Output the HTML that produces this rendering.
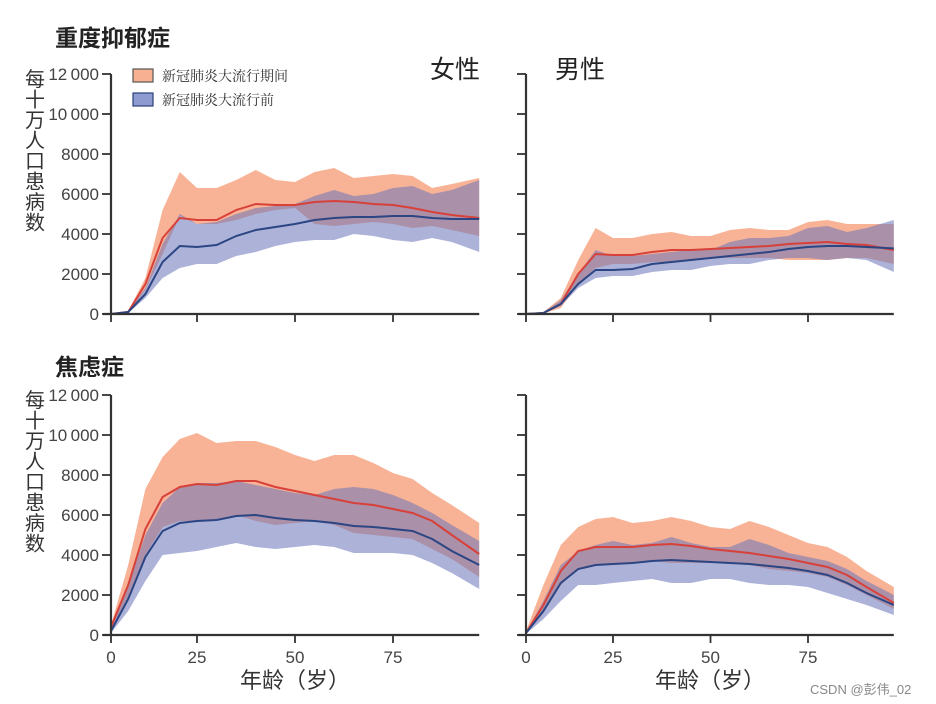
<!DOCTYPE html>
<html><head><meta charset="utf-8">
<style>
html,body{margin:0;padding:0;background:#fff;}
svg{display:block;font-family:"Liberation Sans","Noto Sans CJK SC",sans-serif;}
</style></head>
<body>
<svg id="chart" width="936" height="704" viewBox="0 0 936 704">
<text x="55" y="46" font-size="23" font-weight="bold" fill="#222">重度抑郁症</text>
<text x="55" y="375" font-size="23" font-weight="bold" fill="#222">焦虑症</text>
<text x="430" y="78" font-size="25" fill="#222">女性</text>
<text x="555" y="78" font-size="25" fill="#222">男性</text>
<g>
<rect x="133" y="69" width="20" height="13" fill="#f7b092" stroke="#555" stroke-width="1.2"/>
<text x="162" y="81" font-size="14" fill="#333" font-family="'Noto Serif CJK SC',serif">新冠肺炎大流行期间</text>
<rect x="133" y="93" width="20" height="13" fill="#8d9bd0" stroke="#2b3f7a" stroke-width="1.2"/>
<text x="162" y="105" font-size="14" fill="#333" font-family="'Noto Serif CJK SC',serif">新冠肺炎大流行前</text>
</g>
<text x="240" y="688" font-size="22" fill="#333">年龄（岁）</text>
<text x="655" y="688" font-size="22" fill="#333">年龄（岁）</text>
<text x="810" y="694" font-size="13" fill="#888">CSDN @彭伟_02</text>
<g id="panels"></g>
</svg>
<script>
const ages = [0,5,10,15,20,25,30,35,40,45,50,55,60,65,70,75,80,85,90,97];
const yTicks = [0,2000,4000,6000,8000,10000,12000];
const xTicks = [0,25,50,75];

const depFemDuring = [0,100,1500,3800,4800,4700,4700,5200,5500,5450,5450,5600,5650,5600,5500,5450,5300,5100,4950,4800];
const depFemDuringHi = [0,150,1800,5200,7100,6300,6300,6700,7200,6700,6600,7100,7300,6800,6900,7000,6900,6300,6500,6800];
const depFemDuringLo = [0,50,1200,3000,4900,4500,4500,4700,5000,5200,5300,4500,4400,4500,4600,4500,4300,4400,4200,3900];
const depFemBefore = [0,100,1000,2600,3400,3350,3450,3900,4200,4350,4500,4700,4800,4850,4850,4900,4900,4800,4750,4750];
const depFemBeforeHi = [0,150,1300,3500,5000,4500,4600,5000,5300,5400,5500,5900,6200,5900,6000,6300,6400,6000,6200,6700];
const depFemBeforeLo = [0,50,800,1800,2300,2500,2500,2900,3100,3400,3600,3700,3700,4000,3900,3700,3600,3800,3600,3100];

const depMaleDuring = [0,50,500,2000,3000,2950,2950,3100,3200,3200,3250,3300,3350,3400,3500,3550,3600,3500,3450,3200];
const depMaleDuringHi = [0,100,800,2700,4300,3800,3800,4000,4100,3900,3900,4200,4300,4200,4200,4600,4700,4500,4500,4500];
const depMaleDuringLo = [0,30,300,1500,2300,2500,2500,2600,2600,2700,2800,2800,2800,2800,2700,2700,2700,2800,2800,2500];
const depMaleBefore = [0,50,500,1500,2200,2200,2250,2500,2600,2700,2800,2900,3000,3100,3250,3350,3400,3400,3350,3280];
const depMaleBeforeHi = [0,80,700,2000,3200,2900,2900,3000,3100,3200,3200,3600,3800,3800,3900,4300,4400,4100,4300,4700];
const depMaleBeforeLo = [0,20,400,1300,1800,1900,1900,2100,2200,2200,2400,2500,2500,2700,2800,2800,2700,2800,2700,2100];

const anxFemDuring = [400,2500,5300,6900,7400,7550,7500,7700,7700,7400,7200,7000,6800,6600,6500,6300,6100,5700,5000,4050];
const anxFemDuringHi = [500,3500,7300,8900,9800,10100,9600,9700,9700,9400,9000,8700,9000,9000,8600,8100,7800,7100,6500,5600];
const anxFemDuringLo = [300,1800,4000,5400,5700,5700,5800,6000,5700,5500,5600,5700,5500,5100,5000,4900,4800,4300,3800,2900];
const anxFemBefore = [200,1800,3900,5200,5600,5700,5750,5950,6000,5850,5750,5700,5600,5450,5400,5300,5200,4800,4200,3500];
const anxFemBeforeHi = [300,2500,5000,6600,7400,7600,7600,7700,7500,7300,7100,7000,7300,7400,7300,7000,6600,6100,5500,4700];
const anxFemBeforeLo = [100,1200,2700,4000,4100,4200,4400,4600,4400,4300,4400,4500,4400,4100,4100,4100,4000,3600,3100,2300];

const anxMaleDuring = [100,1500,3200,4200,4400,4400,4400,4500,4550,4450,4300,4200,4100,3950,3800,3600,3400,3000,2400,1600];
const anxMaleDuringHi = [200,2500,4500,5400,5800,5900,5600,5700,5900,5700,5400,5300,5700,5400,5000,4600,4400,3900,3200,2400];
const anxMaleDuringLo = [50,1100,2500,3300,3500,3500,3600,3700,3600,3600,3600,3600,3500,3300,3200,3100,2900,2500,2000,1300];
const anxMaleBefore = [100,1200,2600,3300,3500,3550,3600,3700,3750,3700,3650,3600,3550,3450,3350,3200,3000,2600,2100,1500];
const anxMaleBeforeHi = [150,1700,3500,4200,4500,4700,4500,4600,4900,4600,4400,4400,4800,4500,4100,3900,3700,3300,2700,2000];
const anxMaleBeforeLo = [50,800,1700,2500,2500,2600,2700,2800,2600,2600,2800,2800,2600,2500,2500,2400,2100,1800,1500,1000];

const NS="http://www.w3.org/2000/svg";
const root=document.getElementById('panels');
function mk(tag,attrs,parent){const e=document.createElementNS(NS,tag);for(const k in attrs)e.setAttribute(k,attrs[k]);(parent||root).appendChild(e);return e;}

function drawPanel(cfg){
  const g=mk('g',{});
  
  
  const x0=cfg.x0, y0=cfg.y0;
  const xs=a=> a<=25 ? x0 + a*(cfg.x25-x0)/25 : cfg.x25 + (a-25)*cfg.pxPerYr;
  const ys=v=> y0 - v*20/1000;
  function band(hi,lo,fill,nm){
    let d='M'+ages.map((a,i)=>xs(a).toFixed(1)+','+ys(hi[i]).toFixed(1)).join('L');
    for(let i=ages.length-1;i>=0;i--) d+='L'+xs(ages[i]).toFixed(1)+','+ys(lo[i]).toFixed(1);
    const p=mk('path',{d:d+'Z',fill:fill},g);
    
    
  }
  function line(vals,col,nm){
    const p=mk('path',{d:'M'+ages.map((a,i)=>xs(a).toFixed(1)+','+ys(vals[i]).toFixed(1)).join('L'),fill:'none',stroke:col,'stroke-width':2},g);
    
    
  }
  band(cfg.dHi,cfg.dLo,'rgba(245,150,110,0.72)','during-band');
  band(cfg.bHi,cfg.bLo,'rgba(105,115,185,0.55)','before-band');
  line(cfg.d,'#d8413a','during-line');
  line(cfg.b,'#2c4683','before-line');
  const xe=xs(97);
  mk('line',{x1:x0,y1:y0-240,x2:x0,y2:y0,stroke:'#333','stroke-width':2.2},g);
  mk('line',{x1:x0-8,y1:y0,x2:xe,y2:y0,stroke:'#333','stroke-width':2.2},g);
  yTicks.forEach(v=>{
    const t=mk('line',{x1:x0-9,y1:ys(v),x2:x0,y2:ys(v),stroke:'#333','stroke-width':1.8},g);
    
    
    if(cfg.yLabels){
      const s=mk('text',{x:x0-12,y:ys(v)+6,'font-size':17,'text-anchor':'end',fill:'#444'},g);
      s.textContent=v===0?'0':(v>=10000?String(v).slice(0,2)+'\u2009'+String(v).slice(2):String(v));
      
      
    }
  });
  xTicks.forEach(a=>{
    const t=mk('line',{x1:xs(a),y1:y0,x2:xs(a),y2:y0+8,stroke:'#333','stroke-width':1.8},g);
    
    
    if(cfg.xLabels){
      const s=mk('text',{x:xs(a),y:y0+28,'font-size':17,'text-anchor':'middle',fill:'#444'},g);
      s.textContent=String(a);
      
      
    }
  });
  if(cfg.yLabels){
    '每十万人口患病数'.split('').forEach((c,i)=>{
      const s=mk('text',{x:35,y:y0-228+i*20.5,'font-size':20,'text-anchor':'middle',fill:'#333'},g);
      s.textContent=c;
      
      
    });
  }
}
drawPanel({name:'panel-depression-female',x0:111,x25:197,pxPerYr:3.92,y0:314,yLabels:true,xLabels:false,d:depFemDuring,dHi:depFemDuringHi,dLo:depFemDuringLo,b:depFemBefore,bHi:depFemBeforeHi,bLo:depFemBeforeLo});
drawPanel({name:'panel-depression-male',x0:526,x25:613,pxPerYr:3.9,y0:314,yLabels:false,xLabels:false,d:depMaleDuring,dHi:depMaleDuringHi,dLo:depMaleDuringLo,b:depMaleBefore,bHi:depMaleBeforeHi,bLo:depMaleBeforeLo});
drawPanel({name:'panel-anxiety-female',x0:111,x25:197,pxPerYr:3.92,y0:635,yLabels:true,xLabels:true,d:anxFemDuring,dHi:anxFemDuringHi,dLo:anxFemDuringLo,b:anxFemBefore,bHi:anxFemBeforeHi,bLo:anxFemBeforeLo});
drawPanel({name:'panel-anxiety-male',x0:526,x25:613,pxPerYr:3.9,y0:635,yLabels:false,xLabels:true,d:anxMaleDuring,dHi:anxMaleDuringHi,dLo:anxMaleDuringLo,b:anxMaleBefore,bHi:anxMaleBeforeHi,bLo:anxMaleBeforeLo});
</script>
</body></html>
